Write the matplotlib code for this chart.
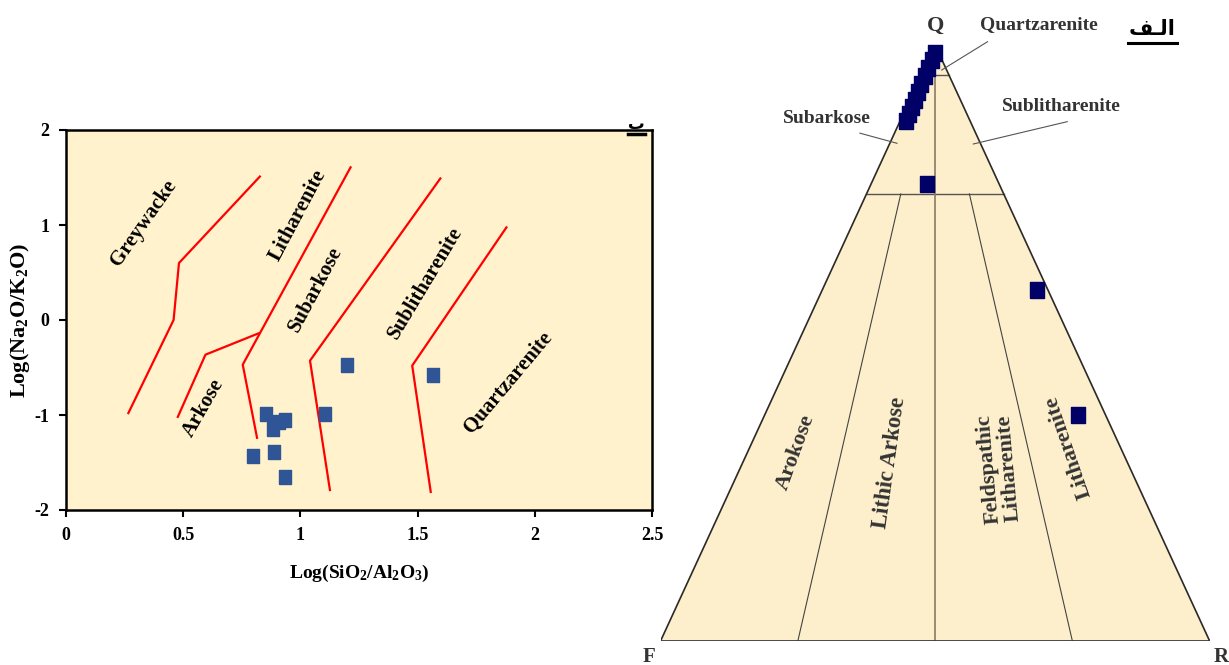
import numpy as np
import matplotlib
matplotlib.use("Agg")
import matplotlib.pyplot as plt
from matplotlib.lines import Line2D

plt.rcParams['font.family'] = ['Liberation Serif', 'DejaVu Sans']
plt.rcParams['mathtext.fontset'] = 'custom'
plt.rcParams['mathtext.rm'] = 'Liberation Serif:bold'
plt.rcParams['mathtext.it'] = 'Liberation Serif:bold'
plt.rcParams['mathtext.bf'] = 'Liberation Serif:bold'
plt.rcParams['axes.unicode_minus'] = False

# left diagram: Log(SiO2/Al2O3) vs Log(Na2O/K2O)
log_si_al = [0.853, 0.934, 0.909, 0.884, 0.797, 0.889, 0.936, 1.105, 1.198, 1.564]
log_na_k = [-0.99, -1.05, -1.07, -1.15, -1.43, -1.39, -1.65, -0.99, -0.47, -0.58]

# field boundaries
grey_x = [0.266, 0.459, 0.482, 0.827]
grey_y = [-0.98, 0.0, 0.6, 1.51]
ark_x = [0.477, 0.595, 0.822]
ark_y = [-1.02, -0.365, -0.14]
lith_x = [0.815, 0.754, 1.214]
lith_y = [-1.24, -0.47, 1.607]
subark_x = [1.126, 1.041, 1.597]
subark_y = [-1.79, -0.428, 1.49]
sublith_x = [1.556, 1.477, 1.879]
sublith_y = [-1.81, -0.48, 0.975]

xticks = [0, 0.5, 1, 1.5, 2, 2.5]
xtick_labels = ['0', '0.5', '1', '1.5', '2', '2.5']
yticks = [-2, -1, 0, 1, 2]

# right diagram: Folk QFR triangle (percent)
tri_q = [98.7, 97.5, 96.1, 94.8, 93.5, 92.1, 90.8, 89.6, 88.4, 87.2, 76.7, 58.9, 37.9]
tri_f = [0.6, 1.8, 3.2, 4.4, 5.8, 7.1, 8.3, 9.4, 10.5, 11.7, 13.2, 2.0, 5.1]
tri_r = [0.7, 0.7, 0.7, 0.8, 0.7, 0.8, 0.9, 1.0, 1.1, 1.1, 10.1, 39.1, 57.0]


def tern(q, f, r):
    q = np.asarray(q, float)
    f = np.asarray(f, float)
    r = np.asarray(r, float)
    s = q + f + r
    return r / s + 0.5 * q / s, q / s


W, H = 1229, 665
fig = plt.figure(figsize=(W / 100, H / 100), dpi=100)

# ---------- left chart
ax = fig.add_axes([66 / W, 1 - 510 / H, 586 / W, 380 / H])
ax.set_facecolor('#FFF2CC')
for xs, ys in [(grey_x, grey_y), (ark_x, ark_y), (lith_x, lith_y),
               (subark_x, subark_y), (sublith_x, sublith_y)]:
    ax.plot(xs, ys, color='#FF0000', lw=1.6)

rect = [(-0.43, -0.5), (0.43, -0.5), (0.43, 0.5), (-0.43, 0.5), (-0.43, -0.5)]
ax.plot(log_si_al, log_na_k, ls='none', marker=rect, markersize=10.5,
        color='#2F5597', mec='#2F5597')

lab = dict(fontsize=15, fontweight='bold', ha='center', va='center')
ax.text(0.33, 1.02, 'Greywacke', rotation=55, **lab)
ax.text(0.99, 1.10, 'Litharenite', rotation=62, **lab)
ax.text(1.063, 0.32, 'Subarkose', rotation=62, **lab)
ax.text(1.533, 0.39, 'Sublitharenite', rotation=59, **lab)
ax.text(1.885, -0.66, 'Quartzarenite', rotation=50, **lab)
ax.text(0.586, -0.93, 'Arkose', rotation=60, **lab)

ax.set_xlim(0, 2.5)
ax.set_ylim(-2, 2)
ax.set_xticks(xticks)
ax.set_xticklabels(xtick_labels)
ax.set_yticks(yticks)
for lb in ax.get_xticklabels() + ax.get_yticklabels():
    lb.set_fontweight('bold')
    lb.set_fontsize(13)
ax.tick_params(direction='out', length=5, width=1.5, pad=7)
for sp in ax.spines.values():
    sp.set_linewidth(1.8)
ax.set_xlabel('Log(SiO$_2$/Al$_2$O$_3$)', fontsize=14, fontweight='bold', labelpad=14)
ax.set_ylabel('Log(Na$_2$O/K$_2$O)', fontsize=16, fontweight='bold', labelpad=2)

# small label at top right of left chart
fig.text(636 / W, 1 - 124 / H, 'ب', fontsize=12, fontweight='bold',
         family=['DejaVu Sans'], ha='center', va='center')
fig.add_artist(Line2D([628 / W, 645 / W], [1 - 134 / H, 1 - 134 / H],
                      color='black', lw=2.5))

# ---------- right triangle
tx = fig.add_axes([660.7 / W, 1 - 640.7 / H, 548.8 / W, 595.7 / H])
tx.set_xlim(0, 1)
tx.set_ylim(0, 1)
tx.axis('off')

cx, cy = tern([100, 0, 0, 100], [0, 100, 0, 0], [0, 0, 100, 0])
tx.fill(cx, cy, color='#FDEFCB', zorder=0)
tx.plot(cx[[1, 0, 2]], cy[[1, 0, 2]], color='#2a2a2a', lw=1.2, zorder=2)
tx.plot(cx[1:3], cy[1:3], color='#3a3a3a', lw=2.0, zorder=2)

# class boundaries
segs = [
    ([95, 95], [5, 0], [0, 5], '#555555', 1.0),
    ([75, 75], [25, 0], [0, 25], '#555555', 1.0),
    ([95, 0], [2.5, 50], [2.5, 50], '#8a7a66', 1.2),
    ([75, 0], [18.75, 75], [6.25, 25], '#444444', 0.8),
    ([75, 0], [6.25, 25], [18.75, 75], '#444444', 0.8),
]
for q, f, r, c, lw in segs:
    sx, sy = tern(q, f, r)
    tx.plot(sx, sy, color=c, lw=lw, zorder=1)

px, py = tern(tri_q, tri_f, tri_r)
trect = [(-0.44, -0.5), (0.44, -0.5), (0.44, 0.5), (-0.44, 0.5), (-0.44, -0.5)]
tx.plot(px, py, ls='none', marker=trect, markersize=11.5, color='#000066',
        mec='#000066', clip_on=False, zorder=5)

# leader lines
tx.plot([0.5955, 0.512], [1.0055, 0.958], color='#555555', lw=0.8, clip_on=False)
tx.plot([0.363, 0.4306], [0.852, 0.835], color='#555555', lw=0.8, clip_on=False)
tx.plot([0.7408, 0.5696], [0.8713, 0.8338], color='#555555', lw=0.8, clip_on=False)

tl = dict(fontweight='bold', ha='center', va='center', color='#333333')
tx.text(0.5, 1.032, 'Q', fontsize=16, clip_on=False, **tl)
tx.text(-0.022, -0.0365, 'F', fontsize=15, ha='center', va='baseline',
        fontweight='bold', color='#333333', clip_on=False)
tx.text(1.021, -0.0365, 'R', fontsize=15, ha='center', va='baseline',
        fontweight='bold', color='#333333', clip_on=False)
tx.text(0.689, 1.034, 'Quartzarenite', fontsize=14, clip_on=False, **tl)
tx.text(0.302, 0.877, 'Subarkose', fontsize=14, **tl)
tx.text(0.731, 0.896, 'Sublitharenite', fontsize=14, **tl)
tx.text(0.2465, 0.317, 'Arokose', fontsize=16, rotation=70, **tl)
tx.text(0.4175, 0.298, 'Lithic Arkose', fontsize=16.5, rotation=82, **tl)
tx.text(0.617, 0.289, 'Feldspathic\nLitharenite', fontsize=16, rotation=95,
        linespacing=1.0, **tl)
tx.text(0.742, 0.326, 'Litharenite', fontsize=16, rotation=109, **tl)

# Arabic tag at top right
fig.text(1152 / W, 1 - 29 / H, '\ufed2\u0640\ufedf\ufe8d', fontsize=15,
         fontweight='bold', family=['DejaVu Sans'], ha='center', va='center')
fig.add_artist(Line2D([1128 / W, 1177 / W], [1 - 43 / H, 1 - 43 / H],
                      color='black', lw=2.2))

fig.savefig('out.png', dpi=100)
